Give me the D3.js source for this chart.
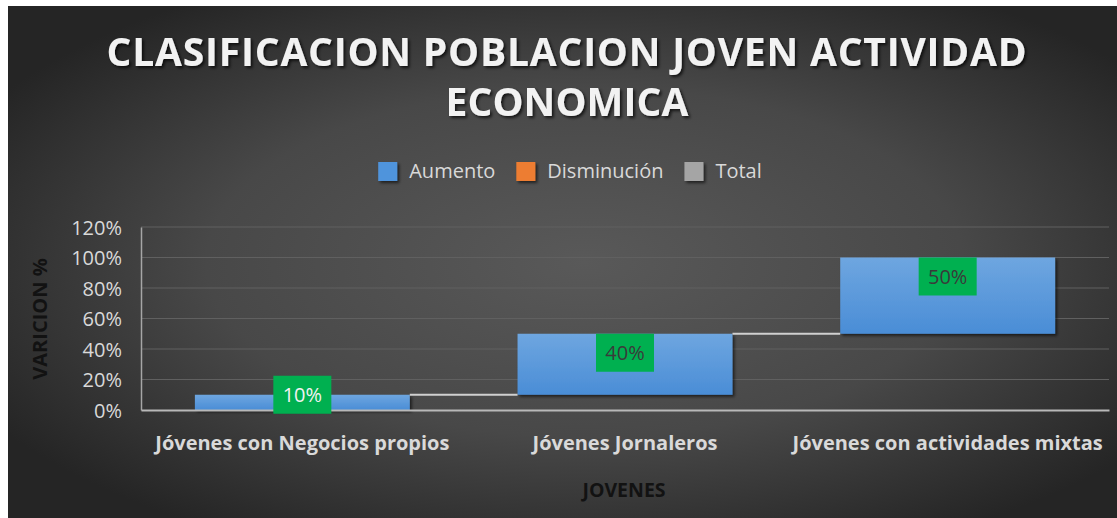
<!DOCTYPE html>
<html>
<head>
<meta charset="utf-8">
<script src="https://cdn.jsdelivr.net/npm/d3@7"></script>
<style>
  html, body { margin: 0; padding: 0; background: #fff; }
  svg { display: block; }
</style>
</head>
<body>
<div id="chart"></div>
<script>
/*
** Data
*/
var titleLines = ["CLASIFICACION POBLACION JOVEN ACTIVIDAD", "ECONOMICA"]
  , categories = ["Jóvenes con Negocios propios", "Jóvenes Jornaleros", "Jóvenes con actividades mixtas"]
  , increments = [0.10, 0.40, 0.50]
  , yTicks = [0, 0.2, 0.4, 0.6, 0.8, 1.0, 1.2]
  , legendItems = ["Aumento", "Disminución", "Total"]
  , legendColors = ["#4f94dc", "#ed7d31", "#a5a5a5"]
  , yTitle = "VARICION %"
  , xTitle = "JOVENES"
;

var W = 1117, H = 518
  , font = "'Open Sans', 'Noto Sans', sans-serif"
  , plot = {left: 141, right: 1109, top: 227, bottom: 410}
  , ends = d3.cumsum(increments)
  , bars = increments.map(function(d, i) {
        return {cat: categories[i], value: d, start: ends[i] - d, end: ends[i]};
    })
;

var svg = d3.select("#chart").append("svg")
    .attr("width", W)
    .attr("height", H)
;
var defs = svg.append("defs");

// background glow
var bg = defs.append("radialGradient")
    .attr("id", "bg")
    .attr("cx", "0.52").attr("cy", "0.5").attr("r", "0.62")
;
bg.append("stop").attr("offset", "0").attr("stop-color", "#595959");
bg.append("stop").attr("offset", "0.55").attr("stop-color", "#484848");
bg.append("stop").attr("offset", "1").attr("stop-color", "#252525");

var barGrad = defs.append("linearGradient")
    .attr("id", "barGrad")
    .attr("x1", 0).attr("y1", 0).attr("x2", 0).attr("y2", 1)
;
barGrad.append("stop").attr("offset", "0").attr("stop-color", "#6ea6e0");
barGrad.append("stop").attr("offset", "1").attr("stop-color", "#4a8dd6");

var shadow = defs.append("filter").attr("id", "shadow")
    .attr("x", "-10%").attr("y", "-10%").attr("width", "130%").attr("height", "140%");
shadow.append("feDropShadow")
    .attr("dx", 2).attr("dy", 2).attr("stdDeviation", 1.5)
    .attr("flood-color", "#000").attr("flood-opacity", 0.6);

var tshadow = defs.append("filter").attr("id", "tshadow")
    .attr("x", "-5%").attr("y", "-20%").attr("width", "110%").attr("height", "150%");
tshadow.append("feDropShadow")
    .attr("dx", 2).attr("dy", 2).attr("stdDeviation", 1.5)
    .attr("flood-color", "#000").attr("flood-opacity", 0.7);

svg.append("rect")
    .attr("x", 8).attr("y", 6)
    .attr("width", W - 8).attr("height", H - 6)
    .attr("fill", "url(#bg)")
;

/*
** Title
*/
var titleWidths = [920, 243];
svg.selectAll(".title")
    .data(titleLines)
  .enter().append("text")
    .attr("class", "title")
    .attr("x", 567)
    .attr("y", function(d, i) { return 66 + i * 50; })
    .attr("text-anchor", "middle")
    .attr("font-family", font)
    .attr("font-weight", "bold")
    .attr("font-size", 39)
    .attr("fill", "#f2f2f2")
    .attr("filter", "url(#tshadow)")
    .text(function(d) { return d; })
  .each(function(d, i) {
      // spread letters out like the wide title
      var len = this.getComputedTextLength()
        , extra = (titleWidths[i] - len) / Math.max(1, d.length - 1);
      d3.select(this).attr("letter-spacing", extra);
    })
;

/*
** Legend
*/
var legend = svg.append("g");
var lx = 0;
legendItems.forEach(function(name, i) {
    var g = legend.append("g").attr("transform", "translate(" + lx + ",0)");
    g.append("rect")
        .attr("x", 0).attr("y", -9)
        .attr("width", 19).attr("height", 19)
        .attr("fill", legendColors[i])
        .attr("filter", "url(#shadow)");
    var t = g.append("text")
        .attr("x", 31).attr("y", 7)
        .attr("font-family", font)
        .attr("font-size", 20)
        .attr("fill", "#d9d9d9")
        .text(name);
    lx += 31 + t.node().getComputedTextLength() + 21;
});
lx -= 21;
legend.attr("transform", "translate(" + (570 - lx / 2) + ",171)");

/*
** Scales and axes
*/
var x = d3.scaleBand()
    .domain(categories)
    .range([plot.left, plot.right])
    .paddingInner(0.334)
    .paddingOuter(0.167)
;
var y = d3.scaleLinear()
    .domain([0, 1.2])
    .range([plot.bottom, plot.top])
;

// gridlines
svg.append("g")
    .selectAll("line")
    .data(yTicks.slice(1))
  .enter().append("line")
    .attr("x1", plot.left).attr("x2", plot.right)
    .attr("y1", function(d) { return y(d); })
    .attr("y2", function(d) { return y(d); })
    .attr("stroke", "#606060")
    .attr("stroke-width", 1.2)
;

var yAxis = svg.append("g")
    .attr("transform", "translate(" + plot.left + ",0)")
    .call(d3.axisLeft(y).tickValues(yTicks).tickFormat(d3.format(".0%")).tickSize(0).tickPadding(19))
;
yAxis.select(".domain").attr("stroke", "#a6a6a6").attr("stroke-width", 1.5);
yAxis.selectAll(".tick text")
    .attr("font-family", font)
    .attr("font-size", 20)
    .attr("fill", "#d9d9d9")
    .attr("dy", "0.35em")
;

/*
** Bars
*/
svg.append("g")
    .selectAll("rect")
    .data(bars)
  .enter().append("rect")
    .attr("x", function(d) { return x(d.cat); })
    .attr("y", function(d) { return y(d.end); })
    .attr("width", x.bandwidth())
    .attr("height", function(d) { return y(d.start) - y(d.end); })
    .attr("fill", "url(#barGrad)")
    .attr("filter", "url(#shadow)")
;

// connectors
svg.append("g")
    .selectAll("line")
    .data(bars.slice(0, -1))
  .enter().append("line")
    .attr("x1", function(d) { return x(d.cat) + x.bandwidth(); })
    .attr("x2", function(d, i) { return x(categories[i + 1]); })
    .attr("y1", function(d) { return y(d.end); })
    .attr("y2", function(d) { return y(d.end); })
    .attr("stroke", "#d0d0d0")
    .attr("stroke-width", 2)
;

// x axis
svg.append("g")
    .attr("transform", "translate(0," + plot.bottom + ")")
    .call(d3.axisBottom(x).tickSize(0).tickPadding(26))
  .call(function(g) {
      g.select(".domain").attr("stroke", "#b8b8b8").attr("stroke-width", 2.2);
      g.selectAll(".tick text")
          .attr("font-family", font)
          .attr("font-weight", "bold")
          .attr("font-size", 20)
          .attr("fill", "#d9d9d9");
    })
;

/*
** Data labels
*/
var boxW = 58, boxH = 38;
var labels = svg.append("g")
    .selectAll("g")
    .data(bars)
  .enter().append("g")
    .attr("transform", function(d) {
        var top = y(d.end)
          , h = y(d.start) - top
          , by = h >= boxH ? top : top - boxH / 2;
        return "translate(" + (x(d.cat) + x.bandwidth() / 2) + "," + by + ")";
    })
;
labels.append("rect")
    .attr("x", -boxW / 2).attr("y", 0)
    .attr("width", boxW).attr("height", boxH)
    .attr("fill", "#00b050")
;
labels.append("text")
    .attr("y", boxH / 2)
    .attr("dy", "0.36em")
    .attr("text-anchor", "middle")
    .attr("font-family", font)
    .attr("font-size", 20)
    .attr("fill", function(d) { return (y(d.start) - y(d.end)) >= boxH ? "#3a3a3a" : "#f2f2f2"; })
    .text(function(d) { return d3.format(".0%")(d.value); })
;

/*
** Axis titles
*/
svg.append("text")
    .attr("transform", "translate(47,319) rotate(-90)")
    .attr("text-anchor", "middle")
    .attr("font-family", font)
    .attr("font-weight", "bold")
    .attr("font-size", 20)
    .attr("fill", "#121212")
    .text(yTitle)
;
svg.append("text")
    .attr("x", 624)
    .attr("y", 497)
    .attr("text-anchor", "middle")
    .attr("font-family", font)
    .attr("font-weight", "bold")
    .attr("font-size", 19.5)
    .attr("fill", "#121212")
    .text(xTitle)
;
</script>
</body>
</html>
